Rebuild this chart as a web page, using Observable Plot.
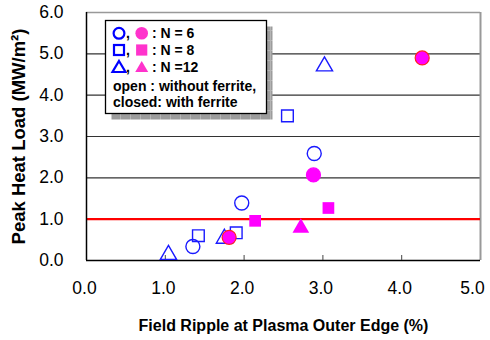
<!DOCTYPE html>
<html><head><meta charset="utf-8">
<script src="https://cdn.jsdelivr.net/npm/d3@7"></script>
<script src="https://cdn.jsdelivr.net/npm/@observablehq/plot@0.6"></script>
<style>
body{margin:0;background:#fff;font-family:"Liberation Sans",Arial,sans-serif;}
#wrap{position:relative;width:490px;height:340px;}
#legend{position:absolute;left:0;top:0;pointer-events:none;}
</style></head>
<body><div id="wrap"></div>
<script>
// N = 6 (circles)
const n6OpenX = [1.35, 1.97, 2.89];
const n6OpenY = [0.34, 1.39, 2.59];
const n6FillX = [1.81, 2.88, 4.26];
const n6FillY = [0.56, 2.07, 4.90];
const n6FillEdge = [true, false, true];
// N = 8 (squares)
const n8OpenX = [1.42, 1.90, 2.55];
const n8OpenY = [0.60, 0.67, 3.50];
const n8FillX = [2.14, 3.07];
const n8FillY = [0.96, 1.27];
// N = 12 (triangles)
const n12OpenX = [1.04, 1.75, 3.02];
const n12OpenY = [0.14, 0.53, 4.70];
const n12FillX = [2.72];
const n12FillY = [0.79];

const xTicks = [0, 1, 2, 3, 4];
const xLastTick = [5];
const yTicks = [0, 1, 2, 3, 4, 5, 6];
const gridTicks = [2, 3, 4, 5];
const limitLoad = 1.0;
const xLabel = "Field Ripple at Plasma Outer Edge (%)";
const yLabel = "Peak Heat Load (MW/m²)";
const legendLabels = [": N = 6", ": N = 8", ": N =12"];
const legendNotes = ["open : without ferrite,", "closed: with ferrite"];

const pts = (xs, ys) => xs.map((x, i) => ({x, y: ys[i], i}));
const BLUE = "#1a1aff", MAG = "#ff00ff";
const FONT = "'Liberation Sans', Arial, sans-serif";
const fmt = d3.format(".1f");

const chart = Plot.plot({
  width: 490, height: 340,
  marginLeft: 86, marginRight: 10, marginTop: 12, marginBottom: 80,
  x: {domain: [0, 5]},
  y: {domain: [0, 6]},
  style: {fontFamily: FONT, background: "#fff", overflow: "visible"},
  marks: [
    Plot.ruleY(gridTicks, {stroke: "#333", strokeWidth: 1.1}),
    Plot.ruleY([6], {stroke: "#999", strokeWidth: 1.6}),
    Plot.ruleX([5], {stroke: "#999", strokeWidth: 2}),
    Plot.ruleY([limitLoad], {stroke: "#ff0000", strokeWidth: 2.2}),
    Plot.ruleX([0], {stroke: "#000", strokeWidth: 1.5}),
    Plot.ruleY([0], {stroke: "#000", strokeWidth: 1.5}),
    Plot.axisX({ticks: [1, 2, 3, 4], tickSize: 5, dy: -5, text: null, label: null, stroke: "#444"}),
    Plot.axisX({ticks: xTicks, tickSize: 0, tickPadding: 21, dx: -2, tickFormat: fmt, fontSize: 17.5, label: null, fill: "#000"}),
    Plot.axisX({ticks: xLastTick, tickSize: 0, tickPadding: 21, dx: -8, tickFormat: fmt, fontSize: 17.5, label: null, fill: "#000"}),
    Plot.axisY({ticks: yTicks, tickSize: 0, tickPadding: 23, tickFormat: fmt, fontSize: 17.5, label: null, fill: "#000"}),
    Plot.text([xLabel], {frameAnchor: "bottom", dy: 65, fontWeight: "bold", fontSize: 16, fill: "#000", text: d => d, textAnchor: "middle", lineAnchor: "middle"}),
    Plot.text([yLabel], {frameAnchor: "left", dx: -67, rotate: -90, fontWeight: "bold", fontSize: 18.5, fill: "#000", text: d => d, textAnchor: "middle", lineAnchor: "middle"}),
    // open markers
    Plot.dot(pts(n6OpenX, n6OpenY), {x: "x", y: "y", r: 7, symbol: "circle", stroke: BLUE, strokeWidth: 1.4, fill: "none"}),
    Plot.dot(pts(n8OpenX, n8OpenY), {x: "x", y: "y", r: 6.6, symbol: "square", stroke: BLUE, strokeWidth: 1.4, fill: "none"}),
    Plot.dot(pts(n12OpenX, n12OpenY), {x: "x", y: "y", r: 6, symbol: "triangle", stroke: BLUE, strokeWidth: 1.4, fill: "none"}),
    // filled markers
    Plot.dot(pts(n8FillX, n8FillY), {x: "x", y: "y", r: 6.6, symbol: "square", fill: MAG}),
    Plot.dot(pts(n12FillX, n12FillY), {x: "x", y: "y", r: 6.2, symbol: "triangle", fill: MAG}),
    Plot.dot(pts(n6FillX, n6FillY), {x: "x", y: "y", r: 7, symbol: "circle", fill: MAG,
      stroke: d => n6FillEdge[d.i] ? "#ff2020" : MAG, strokeWidth: 1.2})
  ]
});
const wrap = document.getElementById("wrap");
wrap.appendChild(chart);

// legend box (overlay)
const LB = "#0000ff", LM = "#ff33cc";
const sym = (s, cx, cy, filled) => {
  const c = filled ? `fill="${LM}"` : `fill="none" stroke="${LB}" stroke-width="2.2"`;
  if (s === "circle") return `<circle cx="${cx}" cy="${cy}" r="${filled ? 6.3 : 5.4}" ${c}/>`;
  if (s === "square") { const h = filled ? 5.6 : 5; return `<rect x="${cx - h}" y="${cy - h}" width="${2 * h}" height="${2 * h}" ${c}/>`; }
  return `<path d="M${cx},${cy - 6}L${cx + 6.5},${cy + 5}L${cx - 6.5},${cy + 5}Z" ${c}/>`;
};
const syms = ["circle", "square", "triangle"];
const rowY = [33.3, 50, 67];
const noteY = [85.7, 102.3];
let s = `<svg id="legend" width="490" height="340" xmlns="http://www.w3.org/2000/svg" font-family="${FONT}" font-weight="bold" font-size="14">
<defs><pattern id="hatch" width="10" height="10" patternUnits="userSpaceOnUse"><rect width="10" height="10" fill="#9c9c9c"/><path d="M0,0.5H10M0.5,0V10" stroke="#b4b4b4" stroke-width="1"/></pattern></defs>
<rect x="111.5" y="26.5" width="161" height="93" fill="url(#hatch)"/>
<rect x="105.5" y="20.5" width="161" height="93" fill="#fff" stroke="#000" stroke-width="1.3"/>`;
syms.forEach((k, i) => {
  s += sym(k, 119, rowY[i], false);
  s += `<text x="126" y="${rowY[i]}" dominant-baseline="central">,</text>`;
  s += sym(k, 141.7, rowY[i], true);
  s += `<text x="152" y="${rowY[i]}" dominant-baseline="central">${legendLabels[i]}</text>`;
});
legendNotes.forEach((t, i) => {
  s += `<text x="113" y="${noteY[i]}" dominant-baseline="central">${t}</text>`;
});
s += `</svg>`;
wrap.insertAdjacentHTML("beforeend", s);
</script></body></html>
